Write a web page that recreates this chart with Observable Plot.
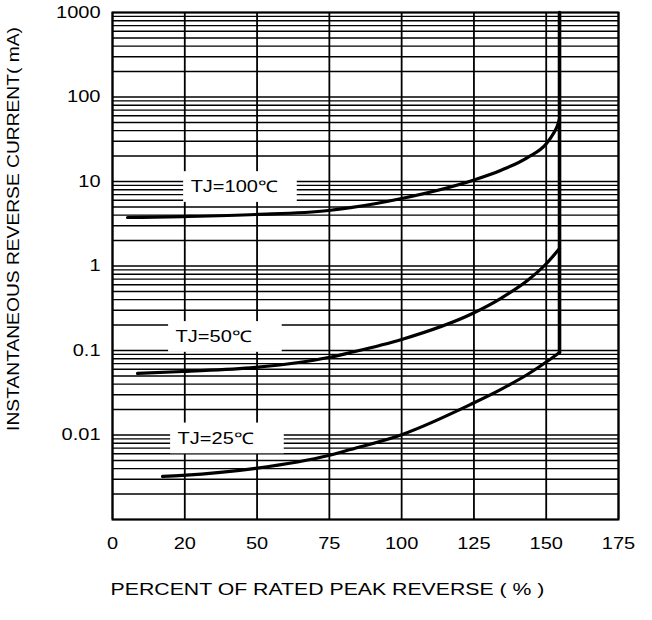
<!DOCTYPE html>
<html>
<head>
<meta charset="utf-8">
<script src="https://cdn.jsdelivr.net/npm/d3@7"></script>
<script src="https://cdn.jsdelivr.net/npm/@observablehq/plot@0.6"></script>
<style>
  html, body { margin: 0; padding: 0; background: #fff; }
  #chart { width: 652px; height: 620px; }
</style>
</head>
<body>
<div id="chart"></div>
<script>
// ---- tick positions and labels ----
const xTickValues = [0, 25, 50, 75, 100, 125, 150, 175];
const xTickLabels = ["0", "20", "50", "75", "100", "125", "150", "175"];
const yTickValues = [0.01, 0.1, 1, 10, 100, 1000];
const yTickLabels = ["0.01", "0.1", "1", "10", "100", "1000"];

// ---- series ----
const tj100X = [5.2, 24.2, 49.5, 74.7, 82.3, 100, 124.5, 134.2, 143.5, 150.1, 152.5, 153.9, 154.6];
const tj100Y = [3.75, 3.85, 4.07, 4.54, 4.9, 6.3, 10.3, 13.5, 19.2, 28.2, 37, 46, 55];

const tj50X = [8.65, 24.2, 49.5, 74.7, 82.3, 100, 124.5, 134.2, 143.5, 150.1, 154.6];
const tj50Y = [0.0535, 0.0564, 0.063, 0.0826, 0.0946, 0.135, 0.274, 0.412, 0.673, 1.07, 1.61];

const tj25X = [17.3, 24.2, 49.5, 74.7, 82.3, 100, 124.5, 134.2, 143.5, 150.4, 154.6];
const tj25Y = [0.00323, 0.00332, 0.00402, 0.00571, 0.00673, 0.0101, 0.0236, 0.0345, 0.052, 0.0745, 0.0946];

// breakdown (vertical) segment
const limitX = [154.6, 154.6];
const limitY = [0.0946, 1000];

// curve labels
const labelText = ["TJ=100℃", "TJ=50℃", "TJ=25℃"];
const labelX = [24.6, 19.4, 20.1];
const labelY = [8.6, 0.1446, 0.0091];

const xTitle = "PERCENT OF RATED PEAK REVERSE ( % )";
const yTitle = "INSTANTANEOUS REVERSE CURRENT( mA)";

// ---- build tables ----
const toRows = (xs, ys) => xs.map((x, i) => ({x, y: ys[i]}));
const curves = [toRows(tj100X, tj100Y), toRows(tj50X, tj50Y), toRows(tj25X, tj25Y)];
const limit = toRows(limitX, limitY);
const labels = labelText.map((t, i) => ({t, x: labelX[i], y: labelY[i]}));

// log grid: 1..9 x 10^k
const yGrid = [];
for (let k = -3; k <= 2; k++) for (let m = 1; m <= 9; m++) yGrid.push(m * Math.pow(10, k));
yGrid.push(1000);

const FONT = "'Liberation Sans', Arial, Helvetica, sans-serif";

const chart = Plot.plot({
  width: 652,
  height: 620,
  marginTop: 12,
  marginLeft: 112,
  marginRight: 34,
  marginBottom: 101,
  style: {fontFamily: FONT, fontSize: "16px", color: "black", background: "white"},
  x: {domain: [0, 175], axis: null},
  y: {type: "log", domain: [0.001, 1000], axis: null},
  marks: [
    Plot.ruleY(yGrid, {stroke: "black", strokeWidth: 1.4}),
    Plot.ruleX(xTickValues, {stroke: "black", strokeWidth: 1.8}),
    Plot.rect(labels, {x1: "x", x2: d => d.x + 39.3, y1: d => d.y / 1.52, y2: d => d.y * 1.52, fill: "white"}),
    Plot.frame({stroke: "black", strokeWidth: 2}),
    Plot.axisX({ticks: xTickValues, tickSize: 0, tickPadding: 18,
      tickFormat: d => xTickLabels[xTickValues.indexOf(d)], fontSize: 16, label: null}),
    Plot.axisY({ticks: yTickValues, tickSize: 0, tickPadding: 12,
      tickFormat: d => yTickLabels[yTickValues.indexOf(d)], fontSize: 16, label: null}),
    ...curves.map(c => Plot.line(c, {x: "x", y: "y", curve: "monotone-x", stroke: "black", strokeWidth: 3.2})),
    Plot.line(limit, {x: "x", y: "y", stroke: "black", strokeWidth: 3.6}),
    Plot.text(labels, {x: "x", y: "y", text: "t", textAnchor: "start", dx: 7, fontSize: 16, fill: "black"}),
    Plot.text([xTitle], {frameAnchor: "bottom", textAnchor: "middle", dx: -38, dy: 75, fontSize: 17, fill: "black"}),
    Plot.text([yTitle], {frameAnchor: "left", textAnchor: "middle", rotate: -90, dx: -99, dy: -37, fontSize: 17, fill: "black"})
  ]
});
document.getElementById("chart").appendChild(chart);

// horizontal stretch of the lettering to match the source typography
chart.querySelectorAll("text").forEach(t => {
  const tr = t.getAttribute("transform") || "";
  const rotated = /rotate/.test(tr) || (t.parentNode && /rotate/.test(t.parentNode.getAttribute("transform") || ""));
  const f = rotated ? 1.13 : 1.25;
  const L = t.getComputedTextLength();
  if (L > 0) {
    t.setAttribute("textLength", (L * f).toFixed(1));
    t.setAttribute("lengthAdjust", "spacingAndGlyphs");
  }
});
</script>
</body>
</html>
